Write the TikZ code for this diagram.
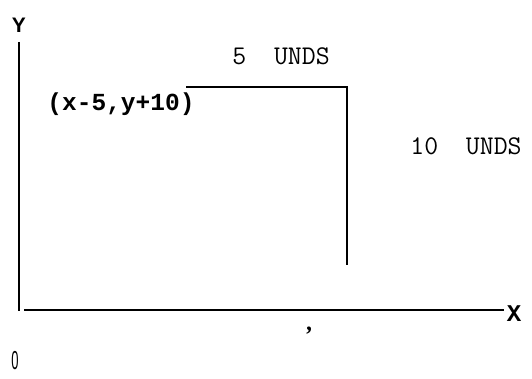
\documentclass[tikz,border=0pt]{standalone}
\usepackage{fontspec}
\setmainfont{Liberation Serif}
\newfontfamily\monob{Liberation Mono}
\newfontfamily\lmtt{Latin Modern Mono}
\newfontfamily\sansf{Liberation Sans}
\begin{document}
\begin{tikzpicture}[x=1pt,y=-1pt,
  lbl/.style={inner sep=0pt, anchor=center},
  axis/.style={line width=2.8pt},
  yaxis/.style={line width=2.2pt},
  seg/.style={line width=2.2pt}]
\useasboundingbox (0,0) rectangle (532,379);
% axes
\coordinate (ytop) at (19,42);
\coordinate (ybot) at (19,311);
\coordinate (xl) at (24,310);
\coordinate (xr) at (504,310);
\draw[yaxis] (ytop) -- (ybot);
\draw[axis] (xl) -- (xr);
\node[lbl] (ylab) at (19,25) {\sansf\bfseries\fontsize{21}{21}\selectfont Y};
\node[lbl] (xlab) at (514,314) {\monob\bfseries\fontsize{24}{24}\selectfont X};
% segments
\coordinate (h1) at (186,87);
\coordinate (h2) at (348,87);
\coordinate (v2) at (347,265);
\draw[seg] (h1) -- (h2);
\draw[seg] ([yshift=-1pt]h2 -| v2) -- (v2);
% labels
\node[lbl] (five) at (281,56) {\lmtt\fontsize{27}{27}\selectfont 5\ \ UNDS};
\node[lbl] (ten) at (466,146) {\lmtt\fontsize{27}{27}\selectfont 10\ \ UNDS};
\node[lbl] (pt) at (121,104) {\monob\bfseries\fontsize{24.5}{24.5}\selectfont (x-5,y+10)};
\node[lbl] (mark) at (310,331) {\bfseries\fontsize{24}{24}\selectfont\itshape ,};
\node[lbl] (zero) at (15,361) {\scalebox{0.5}[1]{\sansf\fontsize{26}{26}\selectfont 0}};
\end{tikzpicture}
\end{document}
